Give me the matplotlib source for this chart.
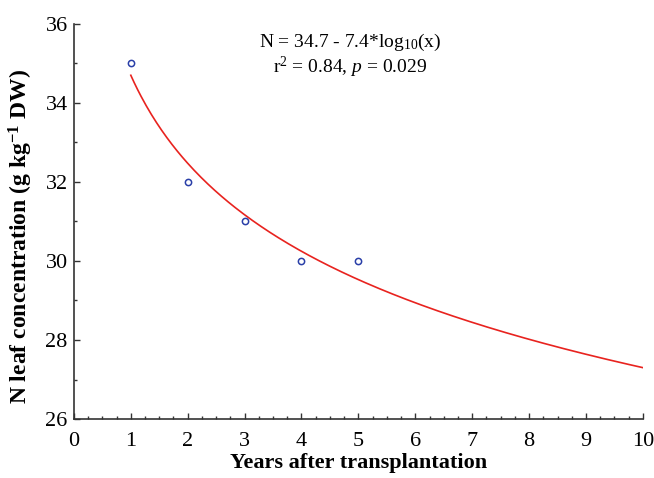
import numpy as np
import matplotlib
matplotlib.use("Agg")
import matplotlib.pyplot as plt
from matplotlib.ticker import MultipleLocator

# observed points
years = [1, 2, 3, 4, 5]
n_leaf = [35, 32, 31, 30, 30]

# fitted model from the annotation: N = a - b*log10(x)
fit_a = 34.7
fit_b = 7.4
fit_range = (1, 10)

plt.rcParams["font.family"] = ["Liberation Serif", "DejaVu Serif"]
plt.rcParams["mathtext.fontset"] = "custom"
plt.rcParams["mathtext.rm"] = "Liberation Serif"
plt.rcParams["mathtext.it"] = "Liberation Serif:italic"
plt.rcParams["mathtext.bf"] = "Liberation Serif:bold"

fig = plt.figure(figsize=(6.54, 4.78), dpi=100)
ax = fig.add_axes([0.113, 0.1234, 0.870, 0.8266])

xf = np.linspace(fit_range[0], fit_range[1], 300)
ax.plot(xf, fit_a - fit_b * np.log10(xf), color="#e8231f", lw=1.2)
ax.plot(years, n_leaf, "o", ms=4.5, mfc="none", mec="#2a3fa8", mew=1.1)

ax.set_xlim(0, 10)
ax.set_ylim(26, 36)
ax.xaxis.set_major_locator(MultipleLocator(1))
ax.xaxis.set_minor_locator(MultipleLocator(0.25))
ax.yaxis.set_major_locator(MultipleLocator(2))
ax.yaxis.set_minor_locator(MultipleLocator(1))
ax.tick_params(which="both", direction="in", labelsize=16, color="#333333")
ax.tick_params(which="major", length=4, width=1)
ax.tick_params(which="minor", length=2, width=1)
ax.tick_params(axis="x", pad=9)
ax.tick_params(axis="y", pad=4.5)
for s in ("top", "right"):
    ax.spines[s].set_visible(False)
for s in ("left", "bottom"):
    ax.spines[s].set_color("#333333")
    ax.spines[s].set_linewidth(1.2)

ax.set_xlabel("Years after transplantation", fontsize=16, fontweight="bold", labelpad=2)
ax.set_ylabel(r"N leaf concentration (g kg$^{\mathbf{-1}}$ DW)", fontsize=17,
              fontweight="bold")
ax.yaxis.set_label_coords(-0.068, 0.463)

ax.text(4.85, 35.19,
        "N = 34.7 - 7.4*log$_{10}$(x)\nr$^2$ = 0.84, $p$ = 0.029",
        ha="center", va="center", multialignment="center",
        fontsize=14, linespacing=1.05)

fig.savefig("out.png", dpi=100)
